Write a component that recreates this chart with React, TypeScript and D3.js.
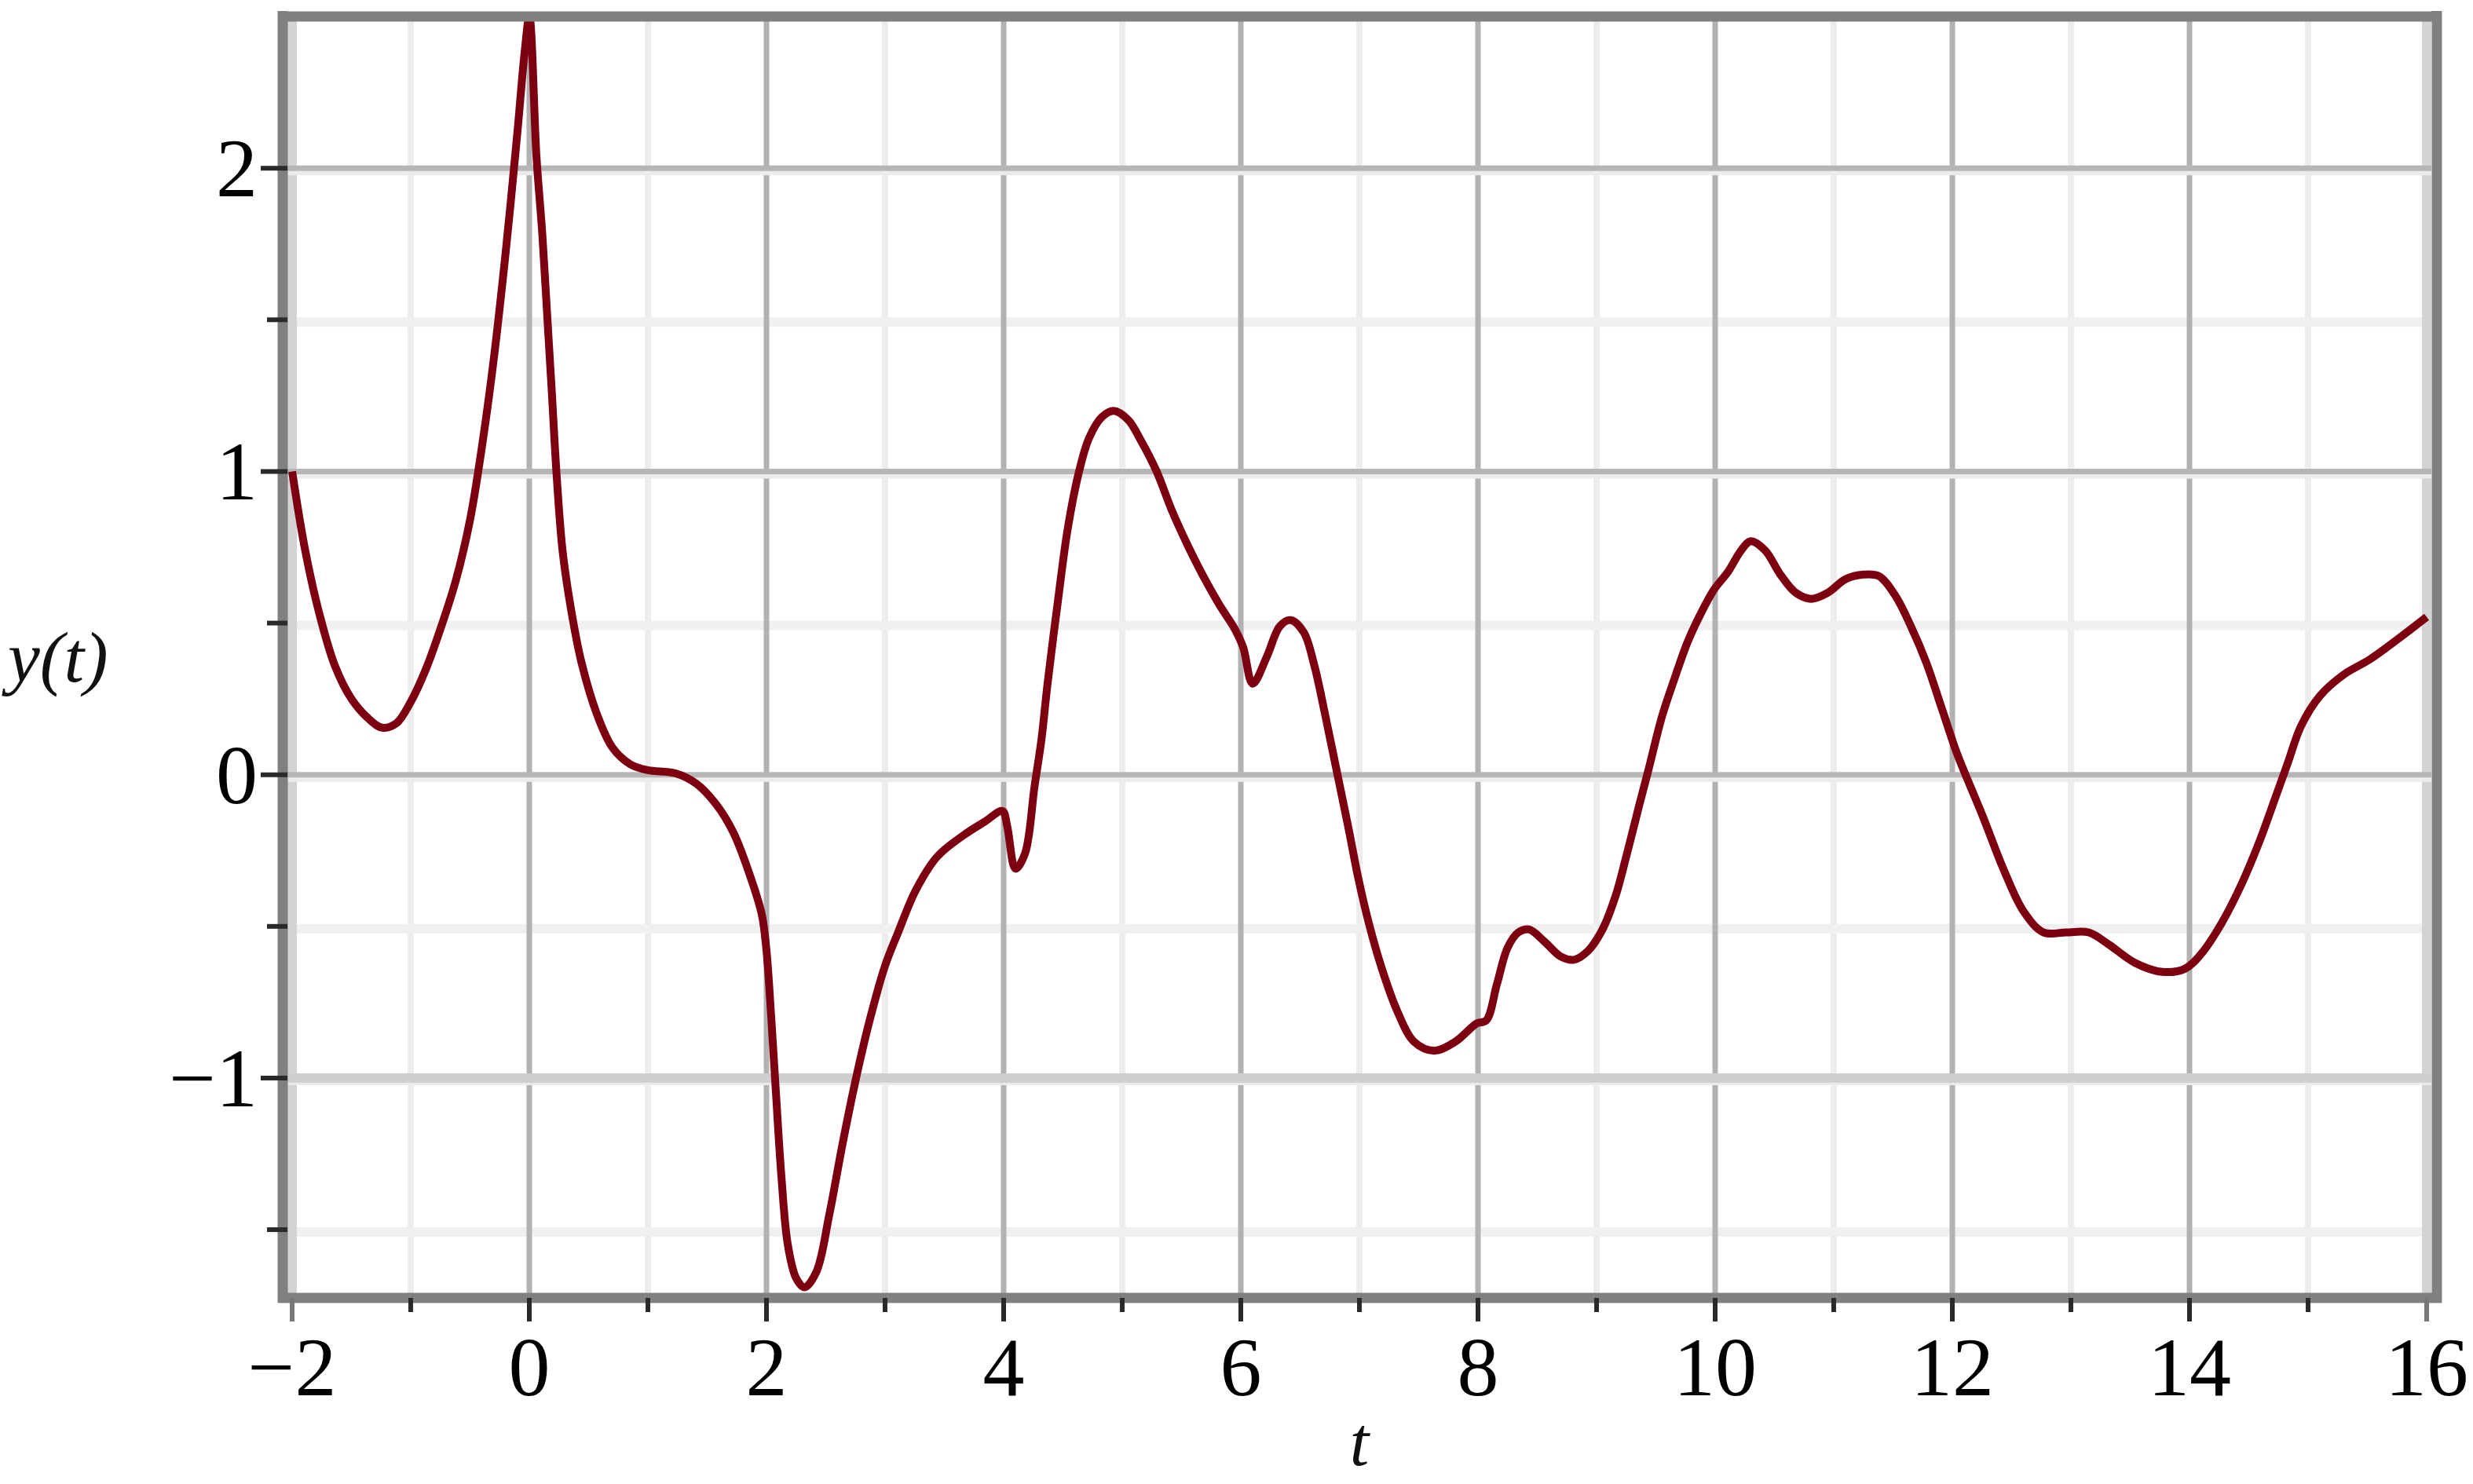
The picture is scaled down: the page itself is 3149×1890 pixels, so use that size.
import { useRef, useEffect } from "react";
import * as d3 from "d3";

// curve samples
const tValues = [
  -2.0, -1.89, -1.77, -1.64, -1.5, -1.37, -1.24, -1.12, -1.0, -0.87, -0.75, -0.62, -0.5, -0.4,
  -0.3, -0.2, -0.1, -0.04, 0.0, 0.06, 0.11, 0.15, 0.19, 0.23, 0.28, 0.35, 0.44, 0.57, 0.7, 0.85,
  1.0, 1.23, 1.41, 1.58, 1.72, 1.85, 1.96, 2.0, 2.04, 2.08, 2.125, 2.18, 2.25, 2.32, 2.42, 2.53,
  2.64, 2.75, 2.87, 3.0, 3.11, 3.26, 3.44, 3.66, 3.84, 3.99, 4.03, 4.1, 4.18, 4.26, 4.32, 4.37,
  4.46, 4.54, 4.63, 4.72, 4.83, 4.93, 5.05, 5.16, 5.29, 5.42, 5.56, 5.69, 5.82, 5.95, 6.02,
  6.1, 6.22, 6.33, 6.42, 6.53, 6.62, 6.71, 6.81, 6.91, 6.99, 7.08, 7.19, 7.32, 7.46, 7.63,
  7.81, 7.99, 8.07, 8.16, 8.25, 8.34, 8.43, 8.56, 8.7, 8.81, 8.93, 9.05, 9.16, 9.25, 9.36,
  9.44, 9.55, 9.66, 9.77, 9.89, 9.99, 10.11, 10.22, 10.3, 10.42, 10.55, 10.68, 10.81, 10.95,
  11.1, 11.25, 11.38, 11.52, 11.65, 11.78, 11.91, 12.03, 12.09, 12.26, 12.43, 12.6, 12.77,
  12.96, 13.15, 13.32, 13.54, 13.77, 13.96, 14.1, 14.27, 14.44, 14.6, 14.72, 14.83, 14.94,
  15.1, 15.3, 15.52, 15.75, 16.0,
];
const yValues = [
  1.0, 0.74, 0.53, 0.36, 0.25, 0.19, 0.155, 0.17, 0.24, 0.35, 0.48, 0.64, 0.84, 1.08,
  1.37, 1.72, 2.12, 2.38, 2.5, 2.04, 1.78, 1.52, 1.26, 0.99, 0.74, 0.55, 0.37, 0.2, 0.09, 0.035,
  0.015, 0.005, -0.03, -0.1, -0.19, -0.32, -0.46, -0.58, -0.8, -1.05, -1.32, -1.55, -1.66,
  -1.69, -1.64, -1.45, -1.22, -1.01, -0.81, -0.63, -0.52, -0.38, -0.27, -0.2, -0.155, -0.12,
  -0.17, -0.31, -0.26, -0.04, 0.12, 0.3, 0.58, 0.81, 0.99, 1.11, 1.18, 1.2, 1.17, 1.1, 1.0,
  0.87, 0.75, 0.65, 0.56, 0.48, 0.42, 0.3, 0.39, 0.49, 0.51, 0.47, 0.36, 0.2, 0.01, -0.18,
  -0.34, -0.49, -0.64, -0.78, -0.88, -0.91, -0.88, -0.82, -0.81, -0.69, -0.57, -0.52, -0.51,
  -0.55, -0.6, -0.61, -0.58, -0.51, -0.4, -0.27, -0.1, 0.02, 0.19, 0.32, 0.44, 0.54, 0.61,
  0.67, 0.74, 0.77, 0.74, 0.66, 0.6, 0.58, 0.6, 0.645, 0.66, 0.655, 0.59, 0.49, 0.37, 0.22,
  0.08, 0.02, -0.14, -0.31, -0.45, -0.52, -0.52, -0.52, -0.56, -0.62, -0.65, -0.64, -0.59,
  -0.49, -0.36, -0.21, -0.08, 0.04, 0.16, 0.26, 0.33, 0.38, 0.445, 0.52,
];

const xMajorTicks = [-2, 0, 2, 4, 6, 8, 10, 12, 14, 16];
const xMinorTicks = [-1, 1, 3, 5, 7, 9, 11, 13, 15];
const yMajorTicks = [-1, 0, 1, 2];
const yMinorTicks = [-1.5, -0.5, 0.5, 1.5];

const fmt = (v: number) => (v < 0 ? "\u2212" + Math.abs(v) : String(v));

function App() {
  const svgRef = useRef<SVGSVGElement>(null);

  useEffect(() => {
    document.body.style.margin = "0";
    const w = 3149;
    const h = 1890;
    const svg = d3.select(svgRef.current).attr("width", w).attr("height", h);
    svg.selectAll("*").remove();

    const x = d3.scaleLinear().domain([-2, 16]).range([372, 3090]);
    const y = d3.scaleLinear().domain([-1.725, 2.5]).range([1653, 21]);
    const [x0, x1] = x.range();
    const [yb, yt] = y.range();

    svg.append("rect").attr("width", w).attr("height", h).attr("fill", "#fff");

    const grid = svg.append("g");
    // minor grid
    grid
      .selectAll(".vminor")
      .data(xMinorTicks)
      .join("line")
      .attr("x1", (d) => x(d))
      .attr("x2", (d) => x(d))
      .attr("y1", yt)
      .attr("y2", yb)
      .attr("stroke", "#ededed")
      .attr("stroke-width", 8);
    grid
      .selectAll(".hminor")
      .data(yMinorTicks)
      .join("line")
      .attr("x1", x0 - 6)
      .attr("x2", x1 + 6)
      .attr("y1", (d) => y(d) + 3)
      .attr("y2", (d) => y(d) + 3)
      .attr("stroke", "#f0f0f0")
      .attr("stroke-width", 12);

    // major grid
    grid
      .selectAll(".vmajor")
      .data(xMajorTicks)
      .join("line")
      .attr("x1", (d) => x(d))
      .attr("x2", (d) => x(d))
      .attr("y1", yt)
      .attr("y2", yb)
      .attr("stroke", (d) => (d === -2 || d === 16 ? "#d3d3d3" : "#b2b2b2"))
      .attr("stroke-width", (d) => (d === -2 || d === 16 ? 12 : 7));
    grid
      .selectAll(".hmajor2")
      .data(yMajorTicks)
      .join("line")
      .attr("x1", x0 - 6)
      .attr("x2", x1 + 6)
      .attr("y1", (d) => y(d) + 5)
      .attr("y2", (d) => y(d) + 5)
      .attr("stroke", "#ebebeb")
      .attr("stroke-width", 8);
    grid
      .selectAll(".hmajor")
      .data(yMajorTicks)
      .join("line")
      .attr("x1", x0 - 6)
      .attr("x2", x1 + 6)
      .attr("y1", (d) => y(d))
      .attr("y2", (d) => y(d))
      .attr("stroke", (d) => (d === -1 ? "#cfcfcf" : "#b6b6b6"))
      .attr("stroke-width", (d) => (d === -1 ? 12 : 7));

    // the curve
    const points = tValues.map((t, i) => [t, yValues[i]] as [number, number]);
    const line = d3
      .line<[number, number]>()
      .x((d) => x(d[0]))
      .y((d) => y(d[1]))
      .curve(d3.curveCatmullRom.alpha(0.5));
    svg
      .append("path")
      .datum(points)
      .attr("d", line)
      .attr("fill", "none")
      .attr("stroke", "#7c0010")
      .attr("stroke-width", 10)
      .attr("stroke-linejoin", "round");

    // frame
    const frame = svg.append("g").attr("fill", "none").attr("stroke", "#808080").attr("stroke-width", 13);
    frame.append("line").attr("x1", x0 - 12).attr("x2", x0 - 12).attr("y1", yt - 7).attr("y2", yb + 6);
    frame.append("line").attr("x1", x1 + 13).attr("x2", x1 + 13).attr("y1", yt - 7).attr("y2", yb + 6);
    frame.append("line").attr("x1", x0 - 18).attr("x2", x1 + 19).attr("y1", yt).attr("y2", yt);
    frame.append("line").attr("x1", x0 - 18).attr("x2", x1 + 19).attr("y1", yb).attr("y2", yb);

    // ticks
    const ticks = svg.append("g").attr("stroke", "#2a2a2a").attr("stroke-width", 6);
    ticks
      .selectAll(".xt")
      .data(xMajorTicks)
      .join("line")
      .attr("x1", (d) => x(d))
      .attr("x2", (d) => x(d))
      .attr("y1", yb)
      .attr("y2", yb + 30)
      .attr("stroke", (d) => (d === -2 || d === 16 ? "#777" : "#2a2a2a"));
    ticks
      .selectAll(".xm")
      .data(xMinorTicks)
      .join("line")
      .attr("x1", (d) => x(d))
      .attr("x2", (d) => x(d))
      .attr("y1", yb)
      .attr("y2", yb + 18);
    ticks
      .selectAll(".yt")
      .data(yMajorTicks)
      .join("line")
      .attr("x1", x0 - 40)
      .attr("x2", x0 - 6)
      .attr("y1", (d) => y(d))
      .attr("y2", (d) => y(d));
    ticks
      .selectAll(".ym")
      .data(yMinorTicks)
      .join("line")
      .attr("x1", x0 - 32)
      .attr("x2", x0 - 6)
      .attr("y1", (d) => y(d))
      .attr("y2", (d) => y(d));

    // tick labels
    const labels = svg
      .append("g")
      .attr("font-family", "'Liberation Serif', 'Times New Roman', serif")
      .attr("font-size", 106)
      .attr("fill", "#000");
    labels
      .selectAll(".xl")
      .data(xMajorTicks)
      .join("text")
      .attr("x", (d) => x(d))
      .attr("y", 1777)
      .attr("text-anchor", "middle")
      .text(fmt);
    labels
      .selectAll(".yl")
      .data(yMajorTicks)
      .join("text")
      .attr("x", 328)
      .attr("y", (d) => y(d) + 36)
      .attr("text-anchor", "end")
      .text(fmt);

    // axis titles
    svg
      .append("text")
      .attr("x", (x0 + x1) / 2)
      .attr("y", 1866)
      .attr("text-anchor", "middle")
      .attr("font-family", "'Liberation Serif', 'Times New Roman', serif")
      .attr("font-style", "italic")
      .attr("font-size", 88)
      .attr("fill", "#111")
      .text("t");
    svg
      .append("text")
      .attr("x", 10)
      .attr("y", 868)
      .attr("font-family", "'Liberation Serif', 'Times New Roman', serif")
      .attr("font-style", "italic")
      .attr("font-size", 92)
      .attr("fill", "#111")
      .text("y(t)");
  }, []);

  return <svg ref={svgRef} style={{ display: "block" }}></svg>;
}

export default App;
